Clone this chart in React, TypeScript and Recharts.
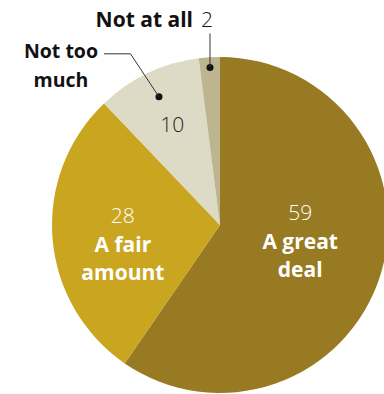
import { Cell, Pie, PieChart } from "recharts"

const names = ["A great deal", "A fair amount", "Not too much", "Not at all"]
const values = [59, 28, 10, 2]
const COLORS = ["#977a22", "#c9a520", "#dddbc5", "#bcb590"]

const data = names.map((name, i) => ({ name, value: values[i] }))

const RAD = Math.PI / 180
const FONT = "'Open Sans', 'Liberation Sans', sans-serif"

function renderLabel(props: any) {
    const { cx, cy, midAngle, outerRadius, index, value } = props
    const at = (k: number) => ({
        x: cx + outerRadius * k * Math.cos(-midAngle * RAD),
        y: cy + outerRadius * k * Math.sin(-midAngle * RAD),
    })
    if (index === 0 || index === 1) {
        const p = at(index === 0 ? 0.5 : 0.58)
        const words = index === 0 ? ["A great", "deal"] : ["A fair", "amount"]
        const first = index === 0 ? -30 : -10
        return (
            <text x={p.x} y={p.y} textAnchor="middle" fill="#fff" fontFamily={FONT} fontSize={21}>
                <tspan x={p.x} dy={first} fontWeight={300}>{value}</tspan>
                {words.map((w, i) => (
                    <tspan key={w} x={p.x} dy={i === 0 ? 29.5 : 28} fontWeight={700}>{w}</tspan>
                ))}
            </text>
        )
    }
    if (index === 2) {
        const n = at(0.66)
        const dot = at(0.845)
        return (
            <g>
                <text x={n.x} y={n.y + 7} textAnchor="middle" fill="#222" fontFamily={FONT} fontSize={21} fontWeight={300}>{value}</text>
                <circle cx={dot.x} cy={dot.y} r={3.5} fill="#111" />
                <polyline points={`${dot.x},${dot.y} ${dot.x - 28.5},${dot.y - 43} ${dot.x - 55},${dot.y - 43}`} fill="none" stroke="#333" strokeWidth={1} />
                <text x={dot.x - 98} y={dot.y - 39} textAnchor="middle" fill="#111" fontFamily={FONT} fontSize={19.5} fontWeight={700}>
                    <tspan x={dot.x - 98}>Not too</tspan>
                    <tspan x={dot.x - 98} dy={29}>much</tspan>
                </text>
            </g>
        )
    }
    const dot = at(0.94)
    return (
        <g>
            <circle cx={dot.x} cy={dot.y} r={3.5} fill="#111" />
            <line x1={dot.x} y1={dot.y} x2={dot.x} y2={dot.y - 34} stroke="#333" strokeWidth={1} />
            <text x={dot.x - 17} y={dot.y - 40} textAnchor="end" fill="#111" fontFamily={FONT} fontSize={21} fontWeight={700}>Not at all</text>
            <text x={dot.x - 9} y={dot.y - 40} textAnchor="start" fill="#111" fontFamily={FONT} fontSize={21} fontWeight={300}>{value}</text>
        </g>
    )
}

export default function App() {
    return (
        <div style={{ position: "absolute", left: 0, top: 0 }}>
            <PieChart width={384} height={394} margin={{ top: 0, right: 0, bottom: 0, left: 0 }}>
                <Pie data={data} nameKey="name" dataKey="value" cx={220} cy={225} outerRadius={168}
                    startAngle={90} endAngle={-270} stroke="none"
                    label={renderLabel} labelLine={false} isAnimationActive={false}>
                    {data.map((item, index) =>
                        <Cell key={`${item.name}-${index}`} fill={COLORS[index]} />
                    )}
                </Pie>
            </PieChart>
        </div>
    )
}
